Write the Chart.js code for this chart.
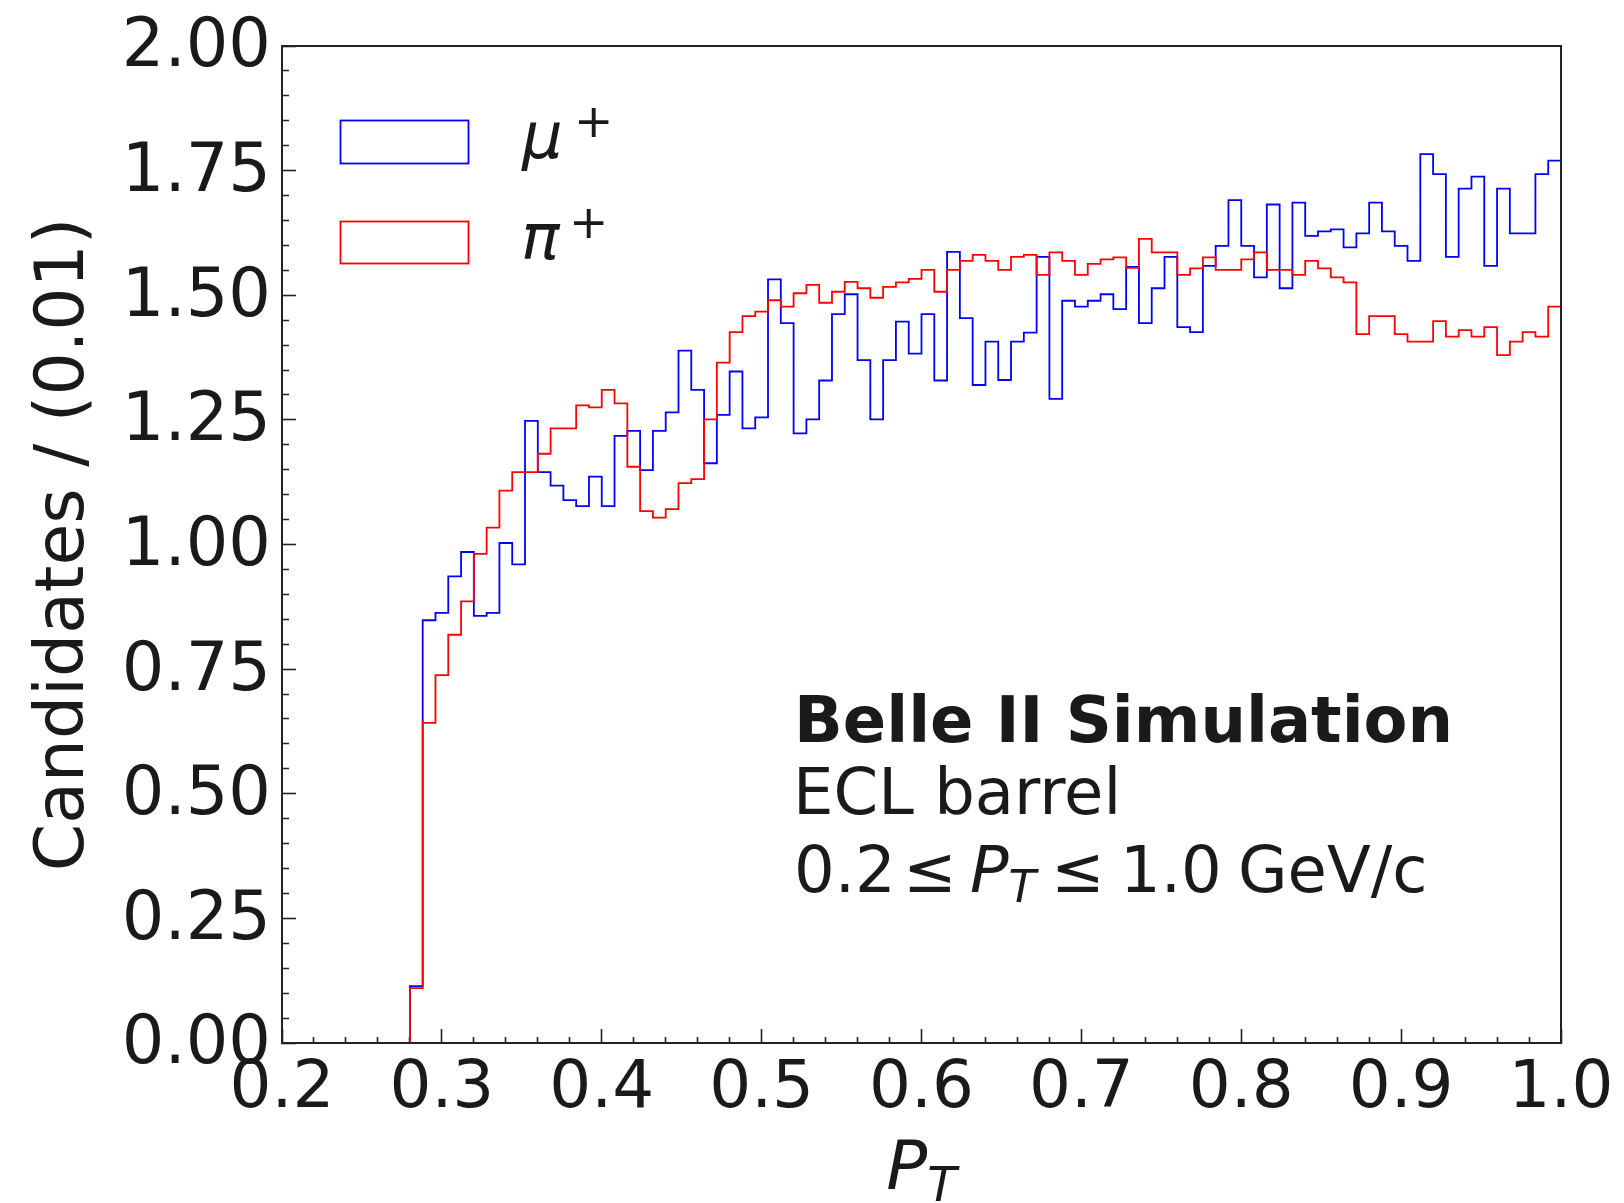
<!DOCTYPE html>
<html>
<head>
<meta charset="utf-8">
<title>Belle II Simulation - P_T</title>
<script src="https://cdn.jsdelivr.net/npm/chart.js@4.4.1/dist/chart.umd.min.js"></script>
<style>
  html, body { margin: 0; padding: 0; background: #fff; }
  #wrap { width: 1624px; height: 1203px; }
</style>
</head>
<body>
<div id="wrap"><canvas id="ptChart" width="1624" height="1203"></canvas></div>
<script>
// binning: 100 bins of width 0.008 between 0.2 and 1.0
const BIN_START = 0.2;
const BIN_WIDTH = 0.008;

// mu+ candidates per bin
const muValues = [
  0, 0, 0, 0, 0, 0, 0, 0, 0, 0,
  0.114, 0.848, 0.863, 0.936, 0.985, 0.857, 0.863, 1.003, 0.960, 1.248,
  1.145, 1.118, 1.089, 1.077, 1.136, 1.077, 1.218, 1.228, 1.149, 1.228,
  1.265, 1.389, 1.310, 1.163, 1.260, 1.347, 1.233, 1.255, 1.532, 1.444,
  1.223, 1.251, 1.329, 1.462, 1.502, 1.370, 1.251, 1.370, 1.447, 1.383,
  1.462, 1.329, 1.587, 1.454, 1.320, 1.407, 1.330, 1.407, 1.425, 1.577,
  1.292, 1.489, 1.477, 1.489, 1.502, 1.472, 1.557, 1.444, 1.514, 1.577,
  1.436, 1.426, 1.559, 1.599, 1.691, 1.599, 1.536, 1.682, 1.514, 1.686,
  1.619, 1.628, 1.632, 1.596, 1.624, 1.686, 1.628, 1.599, 1.569, 1.783,
  1.743, 1.577, 1.714, 1.738, 1.559, 1.714, 1.624, 1.624, 1.743, 1.770
];

// pi+ candidates per bin
const piValues = [
  0, 0, 0, 0, 0, 0, 0, 0, 0, 0,
  0.110, 0.642, 0.738, 0.819, 0.886, 0.981, 1.034, 1.108, 1.145, 1.145,
  1.182, 1.233, 1.233, 1.279, 1.275, 1.310, 1.283, 1.156, 1.067, 1.054,
  1.071, 1.123, 1.131, 1.251, 1.365, 1.426, 1.458, 1.467, 1.490, 1.477,
  1.504, 1.521, 1.485, 1.507, 1.527, 1.514, 1.495, 1.517, 1.526, 1.533,
  1.551, 1.507, 1.551, 1.569, 1.581, 1.569, 1.551, 1.577, 1.581, 1.541,
  1.586, 1.569, 1.541, 1.563, 1.572, 1.576, 1.555, 1.613, 1.586, 1.586,
  1.541, 1.554, 1.576, 1.551, 1.551, 1.572, 1.586, 1.551, 1.551, 1.541,
  1.569, 1.554, 1.536, 1.526, 1.422, 1.458, 1.458, 1.422, 1.407, 1.407,
  1.448, 1.417, 1.430, 1.417, 1.436, 1.380, 1.407, 1.426, 1.417, 1.477
];

// labelled (major) ticks
const xTickLabels = ['0.2', '0.3', '0.4', '0.5', '0.6', '0.7', '0.8', '0.9', '1.0'];
const yTickLabels = ['0.00', '0.25', '0.50', '0.75', '1.00', '1.25', '1.50', '1.75', '2.00'];

const TEXT = '#1a1a1a';
const AXIS = '#222222';
const FONT = 'DejaVu Sans';

// step histogram outline: a point at each bin's left edge, starting at the first filled bin
function histPoints(values) {
  const pts = [];
  const first = values.findIndex(v => v > 0);
  pts.push({ x: BIN_START + first * BIN_WIDTH, y: 0 });
  for (let i = first; i < values.length; i++) {
    pts.push({ x: BIN_START + i * BIN_WIDTH, y: values[i] });
  }
  pts.push({ x: BIN_START + values.length * BIN_WIDTH, y: values[values.length - 1] });
  return pts;
}

function findLabel(value, labels) {
  const hit = labels.find(l => Math.abs(parseFloat(l) - value) < 1e-6);
  return hit === undefined ? '' : hit;
}

// keep the plot frame where the reference has it
function fixBox(s, w, h) {
  if (w !== null) s.width = w;
  if (h !== null) s.height = h;
  s.paddingTop = 0;
  s.paddingBottom = 0;
  s.paddingLeft = 0;
  s.paddingRight = 0;
}

// frame, legend and text block
const overlay = {
  id: 'overlay',
  afterDatasetsDraw(chart) {
    const { ctx, chartArea: a } = chart;
    ctx.save();
    ctx.strokeStyle = AXIS;
    ctx.lineWidth = 2;
    ctx.strokeRect(a.left, a.top, a.right - a.left, a.bottom - a.top);
    ctx.restore();
  },
  afterDraw(chart) {
    const ctx = chart.ctx;
    ctx.save();
    ctx.textBaseline = 'alphabetic';
    ctx.textAlign = 'left';
    ctx.fillStyle = TEXT;

    // legend
    ctx.lineWidth = 1.8;
    ctx.strokeStyle = '#0000ff';
    ctx.strokeRect(340.5, 120.5, 128, 43);
    ctx.strokeStyle = '#ff0000';
    ctx.strokeRect(340.5, 221.5, 128, 42);
    ctx.font = 'italic 64px "' + FONT + '"';
    ctx.fillText('\u03bc', 522, 158);
    ctx.fillText('\u03c0', 521, 259);
    ctx.font = '47px "' + FONT + '"';
    ctx.fillText('+', 574, 137);
    ctx.fillText('+', 569, 238);

    // annotation
    ctx.font = 'bold 64px "' + FONT + '"';
    ctx.fillText('Belle II Simulation', 794, 742);
    ctx.font = '64px "' + FONT + '"';
    ctx.fillText('ECL barrel', 793, 814);
    const base = 892;
    ctx.fillText('0.2', 794, base);
    ctx.fillText('\u2264', 903, base);
    ctx.font = 'italic 64px "' + FONT + '"';
    ctx.fillText('P', 970, base);
    const pW = ctx.measureText('P').width;
    ctx.font = 'italic 45px "' + FONT + '"';
    ctx.fillText('T', 970 + pW, base + 10);
    ctx.font = '64px "' + FONT + '"';
    ctx.fillText('\u2264', 1051, base);
    ctx.fillText('1.0', 1120, base);
    ctx.fillText('GeV/c', 1238, base);

    // x axis title P_T
    ctx.font = 'italic 68px "' + FONT + '"';
    const w1 = ctx.measureText('P').width;
    ctx.font = 'italic 48px "' + FONT + '"';
    const w2 = ctx.measureText('T').width;
    const x0 = (chart.chartArea.left + chart.chartArea.right) / 2 - (w1 + w2) / 2;
    ctx.font = 'italic 68px "' + FONT + '"';
    ctx.fillText('P', x0, 1189);
    ctx.font = 'italic 48px "' + FONT + '"';
    ctx.fillText('T', x0 + w1, 1201);
    ctx.restore();
  }
};

new Chart(document.getElementById('ptChart'), {
  type: 'line',
  data: {
    datasets: [
      {
        label: '\u03bc+',
        data: histPoints(muValues),
        borderColor: '#0000ff',
        borderWidth: 1.8,
        stepped: 'before',
        pointRadius: 0,
        fill: false,
        order: 2
      },
      {
        label: '\u03c0+',
        data: histPoints(piValues),
        borderColor: '#ff0000',
        borderWidth: 1.8,
        stepped: 'before',
        pointRadius: 0,
        fill: false,
        order: 1
      }
    ]
  },
  options: {
    responsive: false,
    animation: false,
    devicePixelRatio: 1,
    layout: { padding: { top: 46, right: 63, left: 0, bottom: 0 } },
    plugins: { legend: { display: false }, tooltip: { enabled: false } },
    scales: {
      x: {
        type: 'linear',
        min: 0.2,
        max: 1.0,
        afterFit: s => fixBox(s, null, 160),
        border: { display: true, color: AXIS, width: 2 },
        grid: {
          drawOnChartArea: false,
          tickLength: -14,
          tickColor: AXIS,
          tickWidth: 1.6,
          tickBorderDash: c => findLabel(c.tick.value, xTickLabels) ? [] : [7, 100]
        },
        ticks: {
          stepSize: 0.02,
          maxTicksLimit: 100,
          autoSkip: false,
          maxRotation: 0,
          padding: 21,
          color: TEXT,
          font: { family: FONT, size: 66, lineHeight: 1.2 },
          callback: v => findLabel(v, xTickLabels)
        }
      },
      y: {
        min: 0,
        max: 2,
        afterFit: s => fixBox(s, 282, null),
        border: { display: true, color: AXIS, width: 2 },
        grid: {
          drawOnChartArea: false,
          tickLength: -14,
          tickColor: AXIS,
          tickWidth: 1.6,
          tickBorderDash: c => findLabel(c.tick.value, yTickLabels) ? [] : [0, 7, 8, 100]
        },
        ticks: {
          stepSize: 0.05,
          maxTicksLimit: 100,
          autoSkip: false,
          padding: 25,
          labelOffset: 3,
          color: TEXT,
          font: { family: FONT, size: 67, lineHeight: 1.2 },
          callback: v => findLabel(v, yTickLabels)
        },
        title: {
          display: true,
          text: 'Candidates / (0.01)',
          color: TEXT,
          font: { family: FONT, size: 68, lineHeight: 1.2 },
          padding: { top: 25, bottom: 0 }
        }
      }
    }
  },
  plugins: [overlay]
});
</script>
</body>
</html>
